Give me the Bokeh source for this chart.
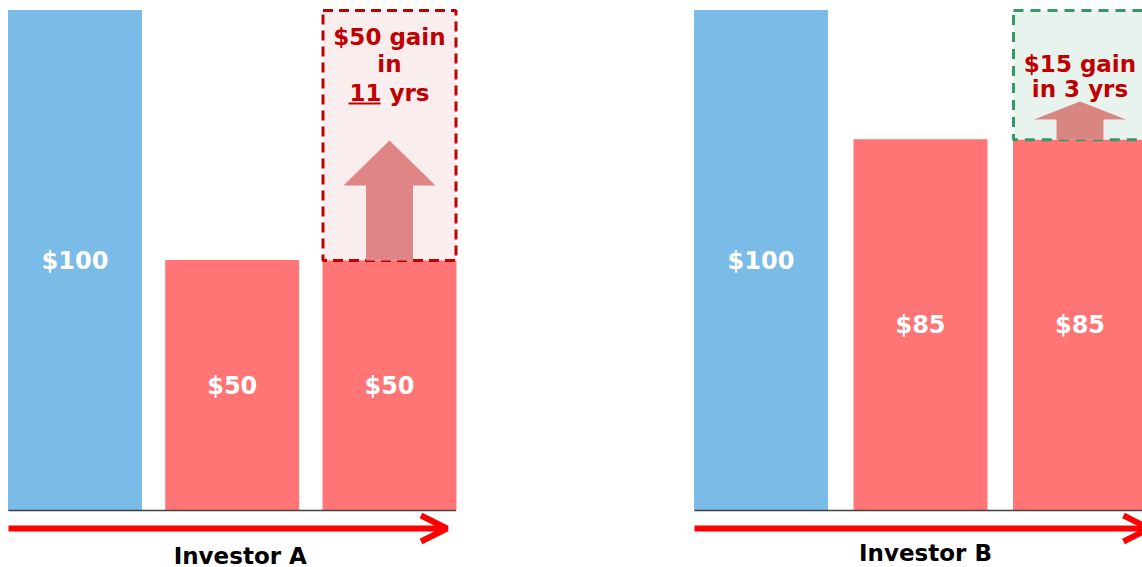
from bokeh.plotting import figure
from bokeh.layouts import row
from bokeh.models import Range1d, Arrow, OpenHead
from bokeh.core.properties import value
from bokeh.embed import file_html
from bokeh.resources import INLINE

# ---- data ----
stages = [0, 1, 2]
bar_colors = ["#7ABBE8", "#FF7474", "#FF7474"]
a_values = [100, 50, 50]
a_labels = ["$100", "$50", "$50"]
a_gain = 50
a_gain_lines = ["$50 gain", "in", "11 yrs"]
b_values = [100, 85, 85]
b_labels = ["$100", "$85", "$85"]
b_gain = 15
b_gain_lines = ["$15 gain", "in 3 yrs"]
names = ["Investor A", "Investor B"]

FONT = "DejaVu Sans"
H = 567
BASE_PY = 510   # baseline pixel row
TOP_PY = 10     # pixel row of the first bar top
W = 571
BW = 133        # bar width in px


def panel(values, labels, gain, gain_lines, line_py, fill, border, dash,
          arrow_fill, arrow_top_py, head_base_py, name, name_dx, name_py,
          c0, sp, floor, tip_dx, underline=None):
    ppu = (BASE_PY - TOP_PY) / (values[0] - floor)
    y0 = floor - (H - BASE_PY) / ppu
    x0 = -c0 / sp
    X = lambda px: x0 + px / sp
    Y = lambda py: y0 + (H - py) / ppu
    dx = lambda px: px / sp

    p = figure(width=W, height=H, output_backend="svg", toolbar_location=None,
               x_range=Range1d(x0, x0 + W / sp), y_range=Range1d(y0, y0 + H / ppu),
               min_border=0, outline_line_color=None, background_fill_color="white")
    p.axis.visible = False
    p.grid.visible = False

    bw = BW / sp
    p.vbar(x=stages, top=values, bottom=floor, width=bw, color=bar_colors)

    # bar labels
    mids = [(v + floor) / 2 for v in values]
    p.text(x=stages, y=mids, text=labels, text_color="white",
           text_font=value(FONT), text_font_style="bold", text_font_size="24px",
           text_align="center", text_baseline="middle")

    # baseline
    p.segment(x0=[stages[0] - bw / 2], x1=[stages[-1] + bw / 2], y0=[floor], y1=[floor],
              line_color="#404040", line_width=1.5)

    # red arrow
    ya = Y(528)
    p.add_layout(Arrow(x_start=stages[0] - bw / 2, y_start=ya,
                       x_end=stages[-1] + bw / 2 + dx(tip_dx), y_end=ya,
                       line_color="#FF0000", line_width=6,
                       end=OpenHead(size=26, line_color="#FF0000", line_width=6)))

    # gain box
    last = stages[-1]
    p.quad(left=[last - bw / 2], right=[last + bw / 2], bottom=[values[-1]],
           top=[values[-1] + gain], fill_color=fill, line_color=border,
           line_width=3, line_dash=dash)

    # up arrow
    hh, sh = dx(46), dx(23.5)
    yb = values[-1]
    yh = Y(head_base_py)
    yt = Y(arrow_top_py)
    xs = [last - sh, last - sh, last - hh, last, last + hh, last + sh, last + sh]
    ys = [yb, yh, yh, yt, yh, yh, yb]
    p.patch(xs, ys, fill_color=arrow_fill, line_color=None)

    # gain text
    p.text(x=[last] * len(gain_lines), y=[Y(py) for py in line_py], text=gain_lines,
           text_color="#C00000", text_font=value(FONT), text_font_style="bold",
           text_font_size="23px", text_align="center", text_baseline="middle")
    if underline is not None:
        ux0, ux1, upy = underline
        p.segment(x0=[last + dx(ux0)], x1=[last + dx(ux1)], y0=[Y(upy)], y1=[Y(upy)],
                  line_color="#C00000", line_width=2)

    # investor label
    p.text(x=[stages[1] + dx(name_dx)], y=[Y(name_py)], text=[name],
           text_color="black", text_font=value(FONT), text_font_style="bold",
           text_font_size="23px", text_align="center", text_baseline="middle")
    return p


pa = panel(a_values, a_labels, a_gain, a_gain_lines, [36, 63, 92],
           "#FAEDED", "#C00000", "10 6", "#E08585", 140, 185,
           names[0], 8, 555, 74.5, 157.25, 0, -9, underline=(-41, -9, 103))
pb = panel(b_values, b_labels, b_gain, b_gain_lines, [63, 88],
           "#E9F3EE", "#339966", "10 7", "#D98683", 101, 119,
           names[1], 5, 552, 189.5, 159.5, 42, 3)

layout = row(pa, pb, spacing=0)
open("out.html", "w").write(file_html(layout, INLINE))
